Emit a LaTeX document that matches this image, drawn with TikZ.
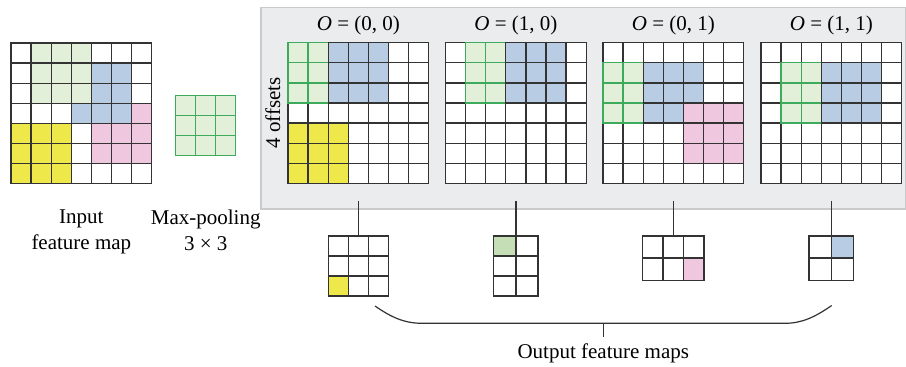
\documentclass[tikz,border=0pt]{standalone}
\usepackage{fontspec}
\setmainfont{Liberation Serif}
\usepackage{tikz}
\usetikzlibrary{positioning}

\definecolor{cellgreen}{HTML}{E2EFD9}
\definecolor{linegreen}{HTML}{3DAA5C}
\definecolor{cellblue}{HTML}{B8CCE4}
\definecolor{cellpink}{HTML}{EFC7DF}
\definecolor{cellyellow}{HTML}{EEE84A}
\definecolor{outgreen}{HTML}{C5DEB5}
\definecolor{panelgray}{HTML}{EBECEE}
\definecolor{panelline}{HTML}{C9CACC}
\definecolor{gridline}{HTML}{333333}

\begin{document}
\begin{tikzpicture}[
  x=0.5pt, y=-0.5pt,
  lbl/.style={font=\fontsize{10.5}{13}\selectfont, align=center, inner sep=0pt},
  fmap/.style={draw=gridline, line width=0.65pt, inner sep=0pt, outer sep=0pt, anchor=north west, minimum width=70.35pt, minimum height=70.35pt},
  omap/.style={draw=gridline, line width=0.75pt, inner sep=0pt, outer sep=0pt},
  grd/.style={draw=gridline, line width=0.65pt},
  grnline/.style={draw=linegreen, line width=0.65pt},
  link/.style={draw=gridline, line width=0.7pt},
  panel/.style={fill=panelgray, draw=panelline, line width=0.8pt}
]
\useasboundingbox (0,0) rectangle (906,366);

% grey panel behind the four offsets
\filldraw[panel] (261,7.5) rectangle (905.5,208.8);

% input feature map
\begin{scope}[shift={(11,43)}, x=10.05pt, y=-10.05pt]
  \fill[cellpink] (4,3) rectangle (7,6);
  \fill[cellblue] (3,1) rectangle (6,4);
  \fill[cellgreen] (1,0) rectangle (4,3);
  \fill[cellyellow] (0,4) rectangle (3,7);
  \foreach \i in {1,...,6} {\draw[grd] (\i,0) -- (\i,7) (0,\i) -- (7,\i);}
  \node[fmap] (input) at (0,0) {};
\end{scope}

% pooling window
\node[fmap, draw=linegreen, fill=cellgreen, minimum width=30pt, minimum height=30pt] (pool) at (175.7,95.7) {};
\begin{scope}[shift={(pool.north west)}, x=10pt, y=-10pt]
  \draw[grnline] (1,0) -- (1,3) (2,0) -- (2,3) (0,1) -- (3,1) (0,2) -- (3,2);
\end{scope}

\node[lbl, below=12.8pt of input] (inlbl) {Input\\feature map};
\node[lbl, anchor=north] (poollbl) at (inlbl.north -| pool.south) {Max-pooling\\3 × 3};

% offset O=(0,0)
\begin{scope}[shift={(288,42.7)}, x=10.05pt, y=-10.05pt]
  \fill[white] (0,0) rectangle (7,7);
  \fill[cellyellow] (0,4) rectangle (3,7);
  \fill[cellblue] (2,0) rectangle (5,3);
  \fill[cellgreen] (0,0) rectangle (2,3);
  \foreach \i in {1,...,6} {\draw[grd] (\i,0) -- (\i,7) (0,\i) -- (7,\i);}
  \node[fmap] (off1) at (0,0) {};
  \draw[grnline] (0,0) rectangle (2,3) (1,0) -- (1,3) (0,1) -- (2,1) (0,2) -- (2,2);
  \draw[grd] (2,0) rectangle (5,3);
\end{scope}

% offset O=(1,0)
\begin{scope}[shift={(445.5,42.7)}, x=10.05pt, y=-10.05pt]
  \fill[white] (0,0) rectangle (7,7);
  \fill[cellblue] (3,0) rectangle (6,3);
  \fill[cellgreen] (1,0) rectangle (3,3);
  \foreach \i in {1,...,6} {\draw[grd] (\i,0) -- (\i,7) (0,\i) -- (7,\i);}
  \node[fmap] (off2) at (0,0) {};
  \draw[grnline] (1,0) rectangle (3,3) (2,0) -- (2,3) (1,1) -- (3,1) (1,2) -- (3,2);
  \draw[grd] (3,0) rectangle (6,3);
\end{scope}

% offset O=(0,1)
\begin{scope}[shift={(603,42.7)}, x=10.05pt, y=-10.05pt]
  \fill[white] (0,0) rectangle (7,7);
  \fill[cellblue] (2,1) rectangle (5,4);
  \fill[cellpink] (4,3) rectangle (7,6);
  \fill[cellgreen] (0,1) rectangle (2,4);
  \foreach \i in {1,...,6} {\draw[grd] (\i,0) -- (\i,7) (0,\i) -- (7,\i);}
  \node[fmap] (off3) at (0,0) {};
  \draw[grnline] (0,1) rectangle (2,4) (1,1) -- (1,4) (0,2) -- (2,2) (0,3) -- (2,3);
  \draw[grd] (2,1) -- (5,1) -- (5,3) (2,1) -- (2,4) -- (4,4);
\end{scope}

% offset O=(1,1)
\begin{scope}[shift={(761,42.7)}, x=10.05pt, y=-10.05pt]
  \fill[white] (0,0) rectangle (7,7);
  \fill[cellblue] (3,1) rectangle (6,4);
  \fill[cellgreen] (1,1) rectangle (3,4);
  \foreach \i in {1,...,6} {\draw[grd] (\i,0) -- (\i,7) (0,\i) -- (7,\i);}
  \node[fmap] (off4) at (0,0) {};
  \draw[grnline] (1,1) rectangle (3,4) (2,1) -- (2,4) (1,2) -- (3,2) (1,3) -- (3,3);
  \draw[grd] (3,1) rectangle (6,4);
\end{scope}

\foreach \n/\o in {1/{0, 0}, 2/{1, 0}, 3/{0, 1}, 4/{1, 1}} {
  \node[lbl, above=3.8pt of off\n] (ttl\n) {\textit{O} = (\o)};
}
\node[lbl, rotate=90, anchor=south] (nofs) at ([xshift=-3.6pt]off1.west) {4 offsets};

% output maps
\node[omap, minimum width=30pt, minimum height=30pt, below=26.3pt of off1] (out1) {};
\node[omap, minimum width=22.15pt, minimum height=30pt, below=26.3pt of off2] (out2) {};
\node[omap, minimum width=30.85pt, minimum height=22.15pt, below=26.3pt of off3] (out3) {};
\node[omap, minimum width=22.15pt, minimum height=22.15pt, below=26.3pt of off4] (out4) {};

\begin{scope}[shift={(out1.north west)}, x=10pt, y=-10pt]
  \draw[omap] (1,0) -- (1,3) (2,0) -- (2,3) (0,1) -- (3,1) (0,2) -- (3,2);
  \filldraw[omap, fill=cellyellow] (0,2) rectangle (1,3);
\end{scope}
\begin{scope}[shift={(out2.north west)}, x=11.075pt, y=-10pt]
  \draw[omap] (1,0) -- (1,3) (0,1) -- (2,1) (0,2) -- (2,2);
  \filldraw[omap, fill=outgreen] (0,0) rectangle (1,1);
\end{scope}
\begin{scope}[shift={(out3.north west)}, x=10.283pt, y=-11.075pt]
  \draw[omap] (1,0) -- (1,2) (2,0) -- (2,2) (0,1) -- (3,1);
  \filldraw[omap, fill=cellpink] (2,1) rectangle (3,2);
\end{scope}
\begin{scope}[shift={(out4.north west)}, x=11.075pt, y=-11.075pt]
  \draw[omap] (1,0) -- (1,2) (0,1) -- (2,1);
  \filldraw[omap, fill=cellblue] (1,0) rectangle (2,1);
\end{scope}

\foreach \n in {1,...,4} {
  \coordinate (tap\n) at ([yshift=-9pt]off\n.south);
  \draw[link] (tap\n) -- (out\n.north);
}

% brace under the outputs
\coordinate (brl) at (375,306);
\coordinate (brr) at (831.7,305.5);
\coordinate (brm) at (603.3,323.3);
\coordinate (brtip) at (603.3,336.7);
\draw[link, line width=0.6pt] (brl) .. controls (391,317) and (404,323.3) .. (422,323.3) -- (785,323.3) .. controls (802,323.3) and (815,317) .. (brr);
\draw[link, line width=0.6pt] (brm) -- (brtip);
\node[lbl, below=3.3pt of brtip] (outlbl) {Output feature maps};
\end{tikzpicture}
\end{document}
